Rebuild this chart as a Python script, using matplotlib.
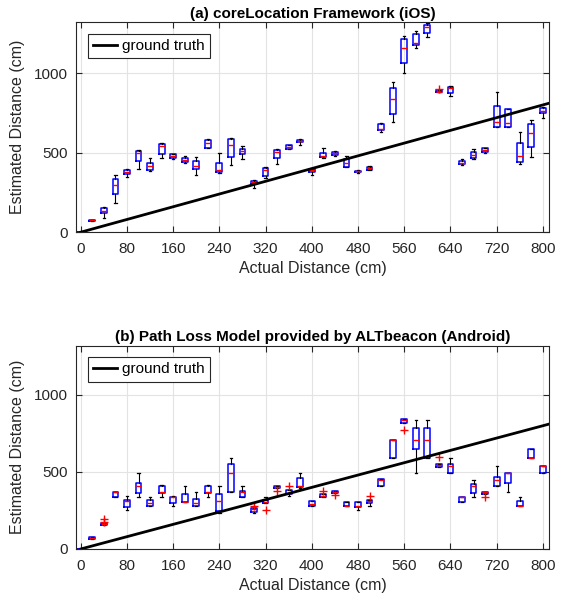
import numpy as np
import matplotlib
matplotlib.use("Agg")
from matplotlib import pyplot as plt

plt.rcParams['font.family'] = ['Liberation Sans', 'DejaVu Sans']

# actual distances (cm), one box every 20 cm
dist = list(range(0, 801, 20))

######################################################
# (a) coreLocation Framework (iOS)                   #
######################################################
ios_lo  = [0, 71, 88, 182, 345, 395, 385, 464, 460, 437, 358, 527, 374, 420, 462, 276, 339, 429, 521, 548, 358,
           469, 479, 408, 372, 389, 628, 695, 998, 1157, 1228, 879, 858, 423, 460, 500, 663, 659, 429, 471, 720]
ios_q1  = [0, 72, 119, 238, 364, 450, 391, 494, 469, 444, 395, 531, 379, 471, 494, 303, 356, 464, 525, 565, 381,
           471, 485, 412, 377, 393, 640, 741, 1065, 1174, 1255, 879, 872, 427, 464, 506, 663, 659, 444, 536, 747]
ios_med = [0, 74, 136, 295, 379, 496, 418, 540, 479, 456, 416, 563, 389, 548, 513, 316, 389, 504, 536, 575, 391,
           479, 498, 437, 383, 404, 649, 835, 1155, 1192, 1291, 883, 904, 437, 483, 515, 695, 688, 479, 623, 764]
ios_q3  = [0, 76, 155, 335, 391, 513, 433, 554, 490, 464, 446, 580, 433, 584, 525, 324, 404, 515, 546, 582, 400,
           496, 506, 458, 387, 412, 680, 904, 1215, 1245, 1301, 891, 912, 446, 502, 527, 791, 772, 559, 678, 778]
ios_hi  = [0, 77, 161, 358, 397, 517, 464, 559, 494, 477, 471, 586, 500, 590, 542, 328, 410, 525, 546, 586, 404,
           527, 510, 479, 391, 416, 684, 941, 1236, 1262, 1316, 891, 921, 462, 521, 531, 879, 772, 628, 705, 785]
ios_fliers = {620: [900]}

######################################################
# (b) Path Loss Model provided by ALTbeacon (Android)#
######################################################
alt_lo  = [0, 63, 154, 340, 253, 340, 277, 340, 277, 307, 277, 340, 232, 372, 338, 232, 297, 398, 344, 398, 281,
           340, 361, 279, 253, 281, 411, 589, 820, 491, 589, 535, 491, 307, 340, 357, 409, 372, 281, 589, 491]
alt_q1  = [0, 63, 154, 340, 275, 364, 279, 361, 301, 307, 281, 361, 249, 372, 338, 240, 297, 398, 359, 405, 281,
           340, 361, 279, 275, 301, 411, 589, 820, 649, 589, 535, 491, 307, 366, 357, 409, 430, 281, 589, 491]
alt_med = [0, 69, 162, 372, 310, 411, 301, 372, 340, 307, 299, 372, 312, 494, 372, 258, 303, 405, 366, 409, 292,
           344, 372, 281, 281, 312, 448, 708, 835, 708, 708, 543, 541, 340, 409, 368, 448, 495, 281, 589, 539]
alt_q3  = [0, 76, 171, 372, 316, 431, 316, 409, 340, 355, 323, 409, 355, 552, 379, 266, 318, 411, 381, 459, 310,
           357, 377, 307, 307, 320, 452, 708, 842, 788, 788, 552, 552, 340, 420, 372, 470, 495, 314, 647, 539]
alt_hi  = [0, 76, 171, 372, 342, 491, 340, 413, 344, 411, 372, 413, 411, 591, 411, 266, 340, 411, 381, 491, 310,
           357, 377, 307, 307, 320, 452, 708, 842, 838, 838, 552, 589, 340, 448, 372, 539, 495, 340, 647, 539]
alt_fliers = {40: [177, 197], 300: [281], 320: [253], 340: [379], 360: [411], 420: [379], 440: [351],
              500: [344], 560: [773], 620: [595], 700: [340]}

gt = [0, 820]   # ground truth: estimated = actual

fig = plt.figure(figsize=(5.68, 6.0), dpi=100)
ax_a = fig.add_axes([0.134, 0.613, 0.833, 0.350])
ax_b = fig.add_axes([0.134, 0.085, 0.833, 0.339])

panels = [
    (ax_a, "(a) coreLocation Framework (iOS)", ios_lo, ios_q1, ios_med, ios_q3, ios_hi, ios_fliers),
    (ax_b, "(b) Path Loss Model provided by ALTbeacon (Android)", alt_lo, alt_q1, alt_med, alt_q3, alt_hi, alt_fliers),
]

dark = "#262626"

for ax, title, lo, q1, med, q3, hi, fl in panels:
    stats = []
    for i, d in enumerate(dist):
        stats.append(dict(whislo=lo[i], q1=q1[i], med=med[i], q3=q3[i], whishi=hi[i],
                          fliers=fl.get(d, [])))
    ax.bxp(stats, positions=dist, widths=10, capwidths=4, manage_ticks=False,
           boxprops=dict(color="blue", lw=1.1),
           medianprops=dict(color="red", lw=1.0),
           whiskerprops=dict(color="black", lw=0.8),
           capprops=dict(color="black", lw=0.9),
           flierprops=dict(marker="+", markeredgecolor="red", markersize=6, lw=0))

    ax.plot(gt, gt, color="black", lw=2.0, label="ground truth", zorder=5)

    ax.set_xlim(-8, 811)
    ax.set_ylim(0, 1320)
    ax.set_xticks(range(0, 801, 80))
    ax.set_yticks([0, 500, 1000])
    ax.grid(True, color="#e3e3e3", lw=0.8)
    ax.set_axisbelow(True)
    ax.tick_params(direction="in", top=True, right=True, labelsize=11, colors=dark, length=4)
    ax.tick_params(axis="x", pad=7)
    ax.tick_params(axis="y", pad=6)
    for s in ax.spines.values():
        s.set_color(dark)
        s.set_linewidth(0.8)

    ax.set_title(title, fontsize=11, fontweight="bold", pad=3)
    ax.set_xlabel("Actual Distance (cm)", fontsize=11.5, color=dark, labelpad=4)
    ax.set_ylabel("Estimated Distance (cm)", fontsize=11.5, color=dark, labelpad=6)

    leg = ax.legend(loc="upper left", fontsize=11, fancybox=False, framealpha=1,
                    edgecolor=dark, handlelength=1.6, handletextpad=0.3,
                    borderaxespad=0.75, borderpad=0.35)
    leg.get_frame().set_linewidth(0.8)

fig.savefig("out.png", dpi=100)
